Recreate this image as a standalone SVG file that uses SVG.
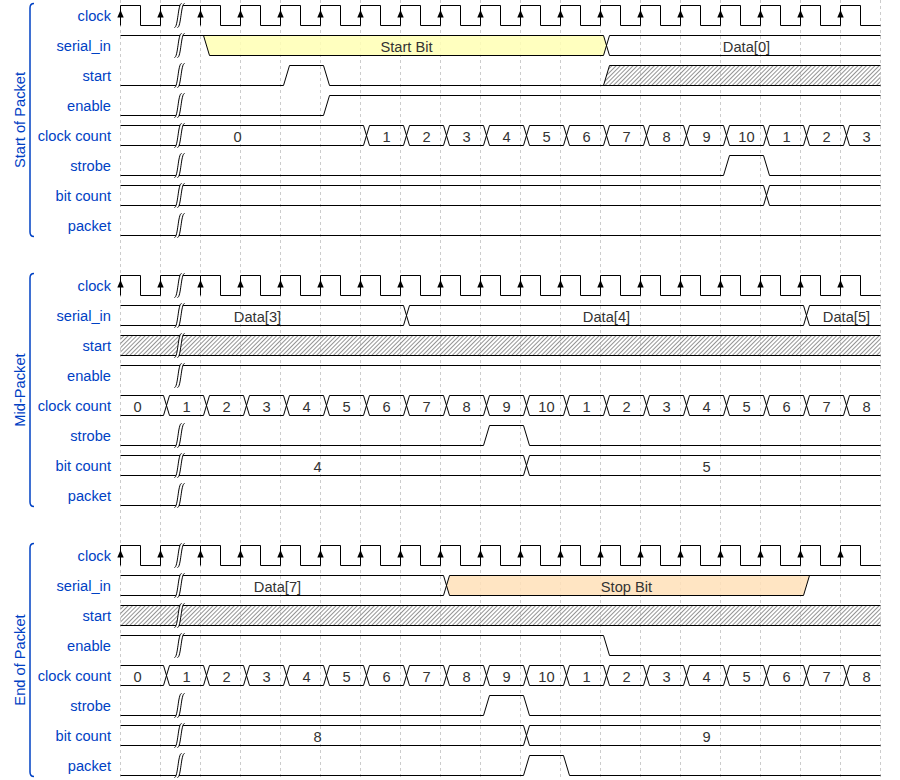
<svg xmlns="http://www.w3.org/2000/svg" xmlns:xlink="http://www.w3.org/1999/xlink" width="900" height="780" viewBox="0 0 900 780">
<style>
.lbl{font-family:"Liberation Sans",Arial,sans-serif;font-size:11pt;fill:#0041c4;text-anchor:end}
.grp{font-family:"Liberation Sans",Arial,sans-serif;font-size:11pt;fill:#0041c4;text-anchor:middle}
.dat{font-family:"Liberation Sans",Arial,sans-serif;font-size:11pt;fill:#333;text-anchor:middle}
.w{fill:none;stroke:#000;stroke-width:1}
.grid{stroke:#ccc;stroke-width:1;stroke-dasharray:3,3}
.br{fill:none;stroke:#0041c4;stroke-width:1.5}
.hat{fill:url(#hatch);stroke:none}
.y{fill:#ffffb4;fill-opacity:0.85;stroke:none}
.o{fill:#ffe0b9;fill-opacity:0.85;stroke:none}
</style>
<defs>
<pattern id="hatch" width="3" height="3" patternUnits="userSpaceOnUse" patternTransform="rotate(45)"><line x1="0.5" y1="0" x2="0.5" y2="3" stroke="#888" stroke-width="0.9"/></pattern>
<path id="arr" d="M0,4.5 L-3.2,12 L3.2,12 Z" fill="#000"/>
<g id="gap">
<path d="M-6,22 C-2.5,22 -2.5,-2 1,-2 L4,-2 C0.5,-2 0.5,22 -3,22 Z" fill="#fff" stroke="none"/>
<path d="M-6,22 C-2.5,22 -2.5,-2 1,-2 M-3,22 C0.5,22 0.5,-2 4,-2" fill="none" stroke="#000" stroke-width="1"/>
</g>
<g id="clk">
<path class="w" d="M120,20 V0 H140 V20 H160 V0 H200 M200,20 V0 H220 V20 H240 V0 H260 V20 H280 V0 H300 V20 H320 V0 H340 V20 H360 V0 H380 V20 H400 V0 H420 V20 H440 V0 H460 V20 H480 V0 H500 V20 H520 V0 H540 V20 H560 V0 H580 V20 H600 V0 H620 V20 H640 V0 H660 V20 H680 V0 H700 V20 H720 V0 H740 V20 H760 V0 H780 V20 H800 V0 H820 V20 H840 V0 H860 V20 H880"/>
<use xlink:href="#arr" x="120"/><use xlink:href="#arr" x="160"/><use xlink:href="#arr" x="200"/><use xlink:href="#arr" x="240"/><use xlink:href="#arr" x="280"/><use xlink:href="#arr" x="320"/><use xlink:href="#arr" x="360"/><use xlink:href="#arr" x="400"/><use xlink:href="#arr" x="440"/><use xlink:href="#arr" x="480"/><use xlink:href="#arr" x="520"/><use xlink:href="#arr" x="560"/><use xlink:href="#arr" x="600"/><use xlink:href="#arr" x="640"/><use xlink:href="#arr" x="680"/><use xlink:href="#arr" x="720"/><use xlink:href="#arr" x="760"/><use xlink:href="#arr" x="800"/><use xlink:href="#arr" x="840"/>
<use xlink:href="#gap" x="180"/>
</g>
<g id="cc18">
<path class="w" d="M120,0 H163 L169,20 H203 L209,0 H243 L249,20 H283 L289,0 H323 L329,20 H363 L369,0 H403 L409,20 H443 L449,0 H483 L489,20 H523 L529,0 H563 L569,20 H603 L609,0 H643 L649,20 H683 L689,0 H723 L729,20 H763 L769,0 H803 L809,20 H843 L849,0 H880"/>
<path class="w" d="M120,20 H163 L169,0 H203 L209,20 H243 L249,0 H283 L289,20 H323 L329,0 H363 L369,20 H403 L409,0 H443 L449,20 H483 L489,0 H523 L529,20 H563 L569,0 H603 L609,20 H643 L649,0 H683 L689,20 H723 L729,0 H763 L769,20 H803 L809,0 H843 L849,20 H880"/>
<g class="dat"><text x="137" y="16">0</text><text x="186" y="16">1</text><text x="226" y="16">2</text><text x="266" y="16">3</text><text x="306" y="16">4</text><text x="346" y="16">5</text><text x="386" y="16">6</text><text x="426" y="16">7</text><text x="466" y="16">8</text><text x="506" y="16">9</text><text x="546" y="16">10</text><text x="586" y="16">1</text><text x="626" y="16">2</text><text x="666" y="16">3</text><text x="706" y="16">4</text><text x="746" y="16">5</text><text x="786" y="16">6</text><text x="826" y="16">7</text><text x="866" y="16">8</text></g>
</g>
<g id="hatrow">
<rect class="hat" x="120" y="0" width="760" height="20"/>
<path class="w" d="M120,0 H880 M120,20 H880"/>
<use xlink:href="#gap" x="180"/>
</g>
</defs>

<g id="grid">
<path class="grid" d="M120.5,0 V780 M160.5,0 V780 M200.5,0 V780 M240.5,0 V780 M280.5,0 V780 M320.5,0 V780 M360.5,0 V780 M400.5,0 V780 M440.5,0 V780 M480.5,0 V780 M520.5,0 V780 M560.5,0 V780 M600.5,0 V780 M640.5,0 V780 M680.5,0 V780 M720.5,0 V780 M760.5,0 V780 M800.5,0 V780 M840.5,0 V780 M880.5,0 V780"/>
</g>

<!-- Group 1: Start of Packet -->
<g id="group-start">
<path class="br" d="M34,3.5 Q30,3.5 30,8 V232 Q30,236.5 34,236.5"/>
<text class="grp" transform="translate(25,120) rotate(-90)">Start of Packet</text>
<text class="lbl" x="111" y="21">clock</text>
<text class="lbl" x="111" y="51">serial_in</text>
<text class="lbl" x="111" y="81">start</text>
<text class="lbl" x="111" y="111">enable</text>
<text class="lbl" x="111" y="141">clock count</text>
<text class="lbl" x="111" y="171">strobe</text>
<text class="lbl" x="111" y="201">bit count</text>
<text class="lbl" x="111" y="231">packet</text>
<g transform="translate(0.5,5.5)">
<g id="g1-clock"><use xlink:href="#clk"/></g>
<g id="g1-serial_in" transform="translate(0,30)">
<path class="y" d="M203,0 H603 L606,10 L603,20 H209 Z"/>
<path class="w" d="M120,0 H603 L609,20 H880"/>
<path class="w" d="M203,0 L209,20 H603 L609,0 H880"/>
<text class="dat" x="406" y="16">Start Bit</text>
<text class="dat" x="746" y="16">Data[0]</text>
<use xlink:href="#gap" x="180"/>
</g>
<g id="g1-start" transform="translate(0,60)">
<path class="hat" d="M603,20 L609,0 H880 V20 Z"/>
<path class="w" d="M120,20 H283 L289,0 H323 L329,20 H880 M603,20 L609,0 H880"/>
<use xlink:href="#gap" x="180"/>
</g>
<g id="g1-enable" transform="translate(0,90)">
<path class="w" d="M120,20 H323 L329,0 H880"/>
<use xlink:href="#gap" x="180"/>
</g>
<g id="g1-clock_count" transform="translate(0,120)">
<path class="w" d="M120,0 H363 L369,20 H403 L409,0 H443 L449,20 H483 L489,0 H523 L529,20 H563 L569,0 H603 L609,20 H643 L649,0 H683 L689,20 H723 L729,0 H763 L769,20 H803 L809,0 H843 L849,20 H880"/>
<path class="w" d="M120,20 H363 L369,0 H403 L409,20 H443 L449,0 H483 L489,20 H523 L529,0 H563 L569,20 H603 L609,0 H643 L649,20 H683 L689,0 H723 L729,20 H763 L769,0 H803 L809,20 H843 L849,0 H880"/>
<g class="dat"><text x="237" y="16">0</text><text x="386" y="16">1</text><text x="426" y="16">2</text><text x="466" y="16">3</text><text x="506" y="16">4</text><text x="546" y="16">5</text><text x="586" y="16">6</text><text x="626" y="16">7</text><text x="666" y="16">8</text><text x="706" y="16">9</text><text x="746" y="16">10</text><text x="786" y="16">1</text><text x="826" y="16">2</text><text x="866" y="16">3</text></g>
<use xlink:href="#gap" x="180"/>
</g>
<g id="g1-strobe" transform="translate(0,150)">
<path class="w" d="M120,20 H723 L729,0 H763 L769,20 H880"/>
<use xlink:href="#gap" x="180"/>
</g>
<g id="g1-bit_count" transform="translate(0,180)">
<path class="w" d="M120,0 H763 L769,20 H880 M120,20 H763 L769,0 H880"/>
<use xlink:href="#gap" x="180"/>
</g>
<g id="g1-packet" transform="translate(0,210)">
<path class="w" d="M120,20 H880"/>
<use xlink:href="#gap" x="180"/>
</g>
</g>
</g>

<!-- Group 2: Mid-Packet -->
<g id="group-mid">
<path class="br" d="M34,273.5 Q30,273.5 30,278 V502 Q30,506.5 34,506.5"/>
<text class="grp" transform="translate(25,390) rotate(-90)">Mid-Packet</text>
<text class="lbl" x="111" y="291">clock</text>
<text class="lbl" x="111" y="321">serial_in</text>
<text class="lbl" x="111" y="351">start</text>
<text class="lbl" x="111" y="381">enable</text>
<text class="lbl" x="111" y="411">clock count</text>
<text class="lbl" x="111" y="441">strobe</text>
<text class="lbl" x="111" y="471">bit count</text>
<text class="lbl" x="111" y="501">packet</text>
<g transform="translate(0.5,275.5)">
<g id="g2-clock"><use xlink:href="#clk"/></g>
<g id="g2-serial_in" transform="translate(0,30)">
<path class="w" d="M120,0 H403 L409,20 H803 L809,0 H880 M120,20 H403 L409,0 H803 L809,20 H880"/>
<text class="dat" x="257" y="16">Data[3]</text>
<text class="dat" x="606" y="16">Data[4]</text>
<text class="dat" x="846" y="16">Data[5]</text>
<use xlink:href="#gap" x="180"/>
</g>
<g id="g2-start" transform="translate(0,60)"><use xlink:href="#hatrow"/></g>
<g id="g2-enable" transform="translate(0,90)">
<path class="w" d="M120,0 H880"/>
<use xlink:href="#gap" x="180"/>
</g>
<g id="g2-clock_count" transform="translate(0,120)"><use xlink:href="#cc18"/></g>
<g id="g2-strobe" transform="translate(0,150)">
<path class="w" d="M120,20 H483 L489,0 H523 L529,20 H880"/>
<use xlink:href="#gap" x="180"/>
</g>
<g id="g2-bit_count" transform="translate(0,180)">
<path class="w" d="M120,0 H523 L529,20 H880 M120,20 H523 L529,0 H880"/>
<text class="dat" x="317" y="16">4</text>
<text class="dat" x="706" y="16">5</text>
<use xlink:href="#gap" x="180"/>
</g>
<g id="g2-packet" transform="translate(0,210)">
<path class="w" d="M120,20 H880"/>
<use xlink:href="#gap" x="180"/>
</g>
</g>
</g>

<!-- Group 3: End of Packet -->
<g id="group-end">
<path class="br" d="M34,543.5 Q30,543.5 30,548 V772 Q30,776.5 34,776.5"/>
<text class="grp" transform="translate(25,660) rotate(-90)">End of Packet</text>
<text class="lbl" x="111" y="561">clock</text>
<text class="lbl" x="111" y="591">serial_in</text>
<text class="lbl" x="111" y="621">start</text>
<text class="lbl" x="111" y="651">enable</text>
<text class="lbl" x="111" y="681">clock count</text>
<text class="lbl" x="111" y="711">strobe</text>
<text class="lbl" x="111" y="741">bit count</text>
<text class="lbl" x="111" y="771">packet</text>
<g transform="translate(0.5,545.5)">
<g id="g3-clock"><use xlink:href="#clk"/></g>
<g id="g3-serial_in" transform="translate(0,30)">
<path class="o" d="M446,10 L449,0 H809 L803,20 H449 Z"/>
<path class="w" d="M120,0 H443 L449,20 H803 L809,0 M120,20 H443 L449,0 H880"/>
<text class="dat" x="277" y="16">Data[7]</text>
<text class="dat" x="626" y="16">Stop Bit</text>
<use xlink:href="#gap" x="180"/>
</g>
<g id="g3-start" transform="translate(0,60)"><use xlink:href="#hatrow"/></g>
<g id="g3-enable" transform="translate(0,90)">
<path class="w" d="M120,0 H603 L609,20 H880"/>
<use xlink:href="#gap" x="180"/>
</g>
<g id="g3-clock_count" transform="translate(0,120)"><use xlink:href="#cc18"/></g>
<g id="g3-strobe" transform="translate(0,150)">
<path class="w" d="M120,20 H483 L489,0 H523 L529,20 H880"/>
<use xlink:href="#gap" x="180"/>
</g>
<g id="g3-bit_count" transform="translate(0,180)">
<path class="w" d="M120,0 H523 L529,20 H880 M120,20 H523 L529,0 H880"/>
<text class="dat" x="317" y="16">8</text>
<text class="dat" x="706" y="16">9</text>
<use xlink:href="#gap" x="180"/>
</g>
<g id="g3-packet" transform="translate(0,210)">
<path class="w" d="M120,20 H523 L529,0 H563 L569,20 H880"/>
<use xlink:href="#gap" x="180"/>
</g>
</g>
</g>
</svg>
